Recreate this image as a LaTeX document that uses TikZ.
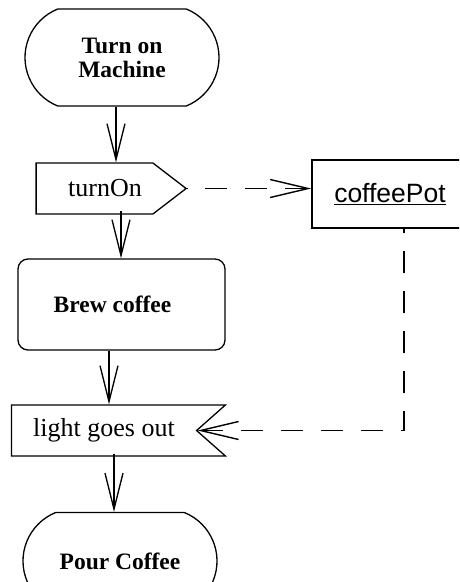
\documentclass[tikz,border=0pt]{standalone}
\usepackage{fontspec}
\setmainfont{Liberation Serif}
\newfontfamily\objfont{Liberation Sans}
\usepackage{tikz}
\usetikzlibrary{arrows.meta, positioning, shapes.misc, shapes.symbols}

\begin{document}
\begin{tikzpicture}[
  x=1pt, y=-1pt,
  every node/.style={align=center, inner sep=0pt, line width=1.3pt},
  action/.style={draw, rounded rectangle, rounded rectangle arc length=136,
                 minimum width=194pt, minimum height=97pt,
                 font=\fontsize{23.5}{24}\selectfont\bfseries},
  activity/.style={draw, rounded corners=10pt, minimum width=207pt, minimum height=91pt,
                   font=\fontsize{23.5}{24}\selectfont\bfseries},
  sendsig/.style={draw, signal, signal to=east, signal pointer angle=75,
                  minimum width=150pt, minimum height=51pt,
                  font=\fontsize{26}{28}\selectfont},
  recvsig/.style={draw, signal, signal to=nowhere, signal from=east, signal pointer angle=83,
                  minimum width=214pt, minimum height=51pt,
                  font=\fontsize{26}{28}\selectfont},
  object/.style={draw, line width=1.6pt, minimum width=156pt, minimum height=68pt,
                 font=\fontsize{26.5}{28}\objfont},
  arr/.style={-{Straight Barb[length=36pt, width=18pt]}, line width=1.3pt},
  dasharr/.style={{Straight Barb[length=38pt, width=18pt]}-, line width=1.4pt,
                  dash pattern=on 22pt off 18pt}
]
  \useasboundingbox (0,0) rectangle (459,582);
  \clip (0,0) rectangle (459,582);

  % --- main flow ---
  \node[action]   (machine) at (122, 57.5)  {Turn on\\Machine};
  \node[sendsig]  (turnon)  at (94.5, 188.5) {\hspace*{21pt}turnOn};
  \node[activity] (brew)    at (121.5, 304.5) {Brew coffee\hspace*{18pt}};
  \node[recvsig]  (light)   at (104, 430.5) {light goes out};
  \node[action]   (pour)    at (120, 561)   {Pour Coffee};

  % --- object ---
  \node[object] (pot) at (390, 194) {\underline{coffeePot}};

  % --- arrows ---
  \draw[arr] ([xshift=-6pt]machine.south) -- ([xshift=-6pt]machine.south |- turnon.north);
  \draw[arr] ([xshift=26.5pt,yshift=4pt]turnon.south) -- ([xshift=26.5pt]turnon.south |- brew.north);
  \draw[arr] ([xshift=-12.5pt]brew.south) -- ([xshift=-12.5pt]brew.south |- light.north);
  \draw[arr] ([xshift=10pt,yshift=3pt]light.south) -- ([xshift=10pt]light.south |- pour.north);

  % signal to the coffee pot and back (drawn from the arrow tip)
  \draw[dasharr] (turnon.east -| pot.west) -- (turnon.east);
  \draw[dasharr] (light.east) -| ([xshift=14pt]pot.south);

\end{tikzpicture}
\end{document}
